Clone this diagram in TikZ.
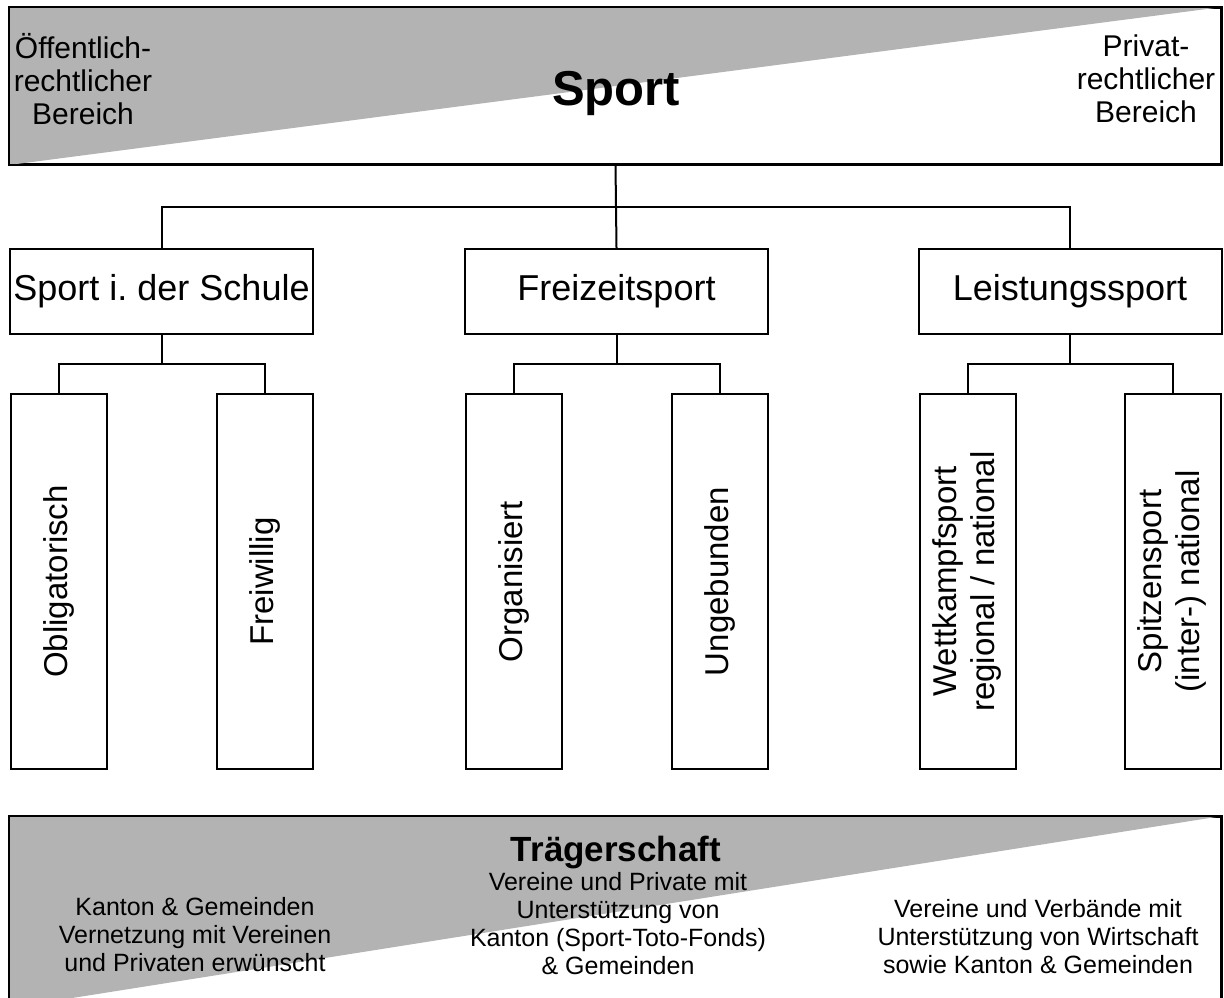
\documentclass[tikz,border=0pt]{standalone}
\usepackage{fontspec}
\setmainfont{Liberation Sans}
\usepackage{xcolor}
\usepackage{tikz}

\definecolor{bandgray}{HTML}{B3B3B3}
\frenchspacing

\begin{document}
\begin{tikzpicture}[x=0.5pt, y=-0.5pt, line width=1pt,
		banner/.style={draw, inner sep=0pt, minimum width=605.5pt},
		box/.style={draw, inner sep=0pt, minimum width=151.5pt, minimum height=42.5pt, font=\fontsize{18}{21}\selectfont},
		leaf/.style={draw, inner sep=0pt, minimum width=48pt, minimum height=187.5pt, font=\fontsize{16.5}{19}\selectfont},
		note/.style={align=center, inner sep=0pt}]
			\clip (0,0) rectangle (1224,997);
			% Banners
			\node[banner, minimum height=78pt] (top) at (615.5,86) {};
			\fill[bandgray] (top.south west) -- (top.north west) -- (top.north east) -- cycle;
			\node[banner, minimum height=95pt] (base) at (615.5,912) {};
			\fill[bandgray] (base.south west) -- (base.north west) -- (base.north east) -- cycle;
			\draw (top.south west) rectangle (top.north east);
			\draw (base.south west) rectangle (base.north east);
			\node[note, font=\fontsize{15}{16.5}\selectfont] (pub) at (83,79) {Öffentlich-\\rechtlicher\\Bereich};
			\node[note, font=\fontsize{15}{16.5}\selectfont] (priv) at (1146,79) {Privat-\\rechtlicher\\Bereich};
			\node[note, font=\fontsize{24.5}{28}\selectfont\bfseries, anchor=base] (sport) at (616,105) {Sport};
			\node[note, font=\fontsize{17.5}{20}\selectfont\bfseries, anchor=base] (traeger) at (616,861) {Trägerschaft};
			\node[note, font=\fontsize{12.5}{14}\selectfont] (t1) at (195,935) {Kanton \& Gemeinden\\Vernetzung mit Vereinen\\und Privaten erwünscht};
			\node[note, font=\fontsize{12.5}{14}\selectfont] (t2) at (618,924) {Vereine und Private mit\\Unterstützung von\\Kanton (Sport-Toto-Fonds)\\\& Gemeinden};
			\node[note, font=\fontsize{12.5}{14}\selectfont] (t3) at (1038,937) {Vereine und Verbände mit\\Unterstützung von Wirtschaft\\sowie Kanton \& Gemeinden};
			% Nodes
			\node[box] (m1) at (161.5,291.5) {Sport i. der Schule};
			\node[box] (m2) at (616.5,291.5) {Freizeitsport};
			\node[box] (m3) at (1070,291.5) {Leistungssport};
			\node[leaf] (l1) at (59,581.5) {\rotatebox{90}{Obligatorisch}};
			\node[leaf] (l2) at (265,581.5) {\rotatebox{90}{Freiwillig}};
			\node[leaf] (l3) at (514,581.5) {\rotatebox{90}{Organisiert}};
			\node[leaf] (l4) at (720,581.5) {\rotatebox{90}{Ungebunden}};
			\node[leaf] (l5) at (967.5,581.5) {\rotatebox{90}{\begin{tabular}{@{}c@{}}Wettkampfsport\\regional / national\end{tabular}}};
			\node[leaf] (l6) at (1173,581.5) {\rotatebox{90}{\begin{tabular}{@{}c@{}}Spitzensport\\(inter-) national\end{tabular}}};
			\coordinate (j0) at (616,207);
			\coordinate (j1) at (161.5,364);
			\coordinate (j2) at (616.5,364);
			\coordinate (j3) at (1070,364);
			% Edges
			\draw (top.south) -- (j0);
			\draw (m1.north) |- (j0) -| (m3.north);
			\draw (j0) -- (m2.north);
			\draw (m1.south) -- (j1);
			\draw (l1.north) |- (j1) -| (l2.north);
			\draw (m2.south) -- (j2);
			\draw (l3.north) |- (j2) -| (l4.north);
			\draw (m3.south) -- (j3);
			\draw (l5.north) |- (j3) -| (l6.north);
		\end{tikzpicture}
\end{document}
